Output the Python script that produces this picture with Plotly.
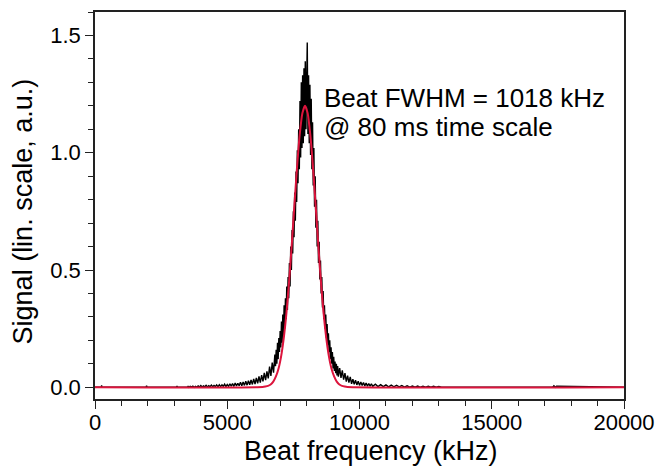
import numpy as np
import plotly.graph_objects as go

# ---------------- data ----------------
# measured beat spectrum, split into sampled sections
base_left_x = [0, 240, 250, 260, 1930, 1950, 1970, 2900, 3080, 3100, 3120, 3500, 3520, 3540]
base_left_y = [0, 0, 0.008, 0, 0, 0.006, 0, 0, 0, 0.005, 0, 0, 0.005, 0]

wing_left_x = list(range(3600, 6800, 50)) + [6775]
wing_left_y = [
    0.004, 0.001, 0.005, 0.000, 0.004, 0.001, 0.006, 0.001, 0.007, 0.001,
    0.006, 0.002, 0.008, 0.001, 0.007, 0.002, 0.009, 0.002, 0.008, 0.003,
    0.010, 0.002, 0.011, 0.003, 0.010, 0.004, 0.013, 0.003, 0.012, 0.004,
    0.015, 0.005, 0.016, 0.004, 0.018, 0.006, 0.017, 0.007, 0.021, 0.006,
    0.023, 0.008, 0.026, 0.009, 0.028, 0.011, 0.031, 0.012, 0.036, 0.014,
    0.040, 0.017, 0.046, 0.020, 0.052, 0.025, 0.061, 0.030, 0.068, 0.038,
    0.088, 0.048, 0.105, 0.062, 0.125,
]

core_x = list(range(6800, 9225, 25))
core_y = [
    0.14, 0.09, 0.16, 0.10, 0.19, 0.12, 0.21, 0.15, 0.24, 0.17,
    0.28, 0.19, 0.31, 0.22, 0.35, 0.25, 0.38, 0.29, 0.43, 0.33,
    0.47, 0.38, 0.53, 0.43, 0.60, 0.50, 0.67, 0.57, 0.75, 0.64,
    0.83, 0.71, 0.92, 0.79, 1.01, 0.87, 1.10, 0.93, 1.22, 0.98,
    1.30, 1.02, 1.33, 1.04, 1.36, 1.07, 1.39, 1.10, 1.42, 1.47,
    1.08, 1.33, 1.04, 1.29, 0.99, 1.23, 0.93, 1.13, 0.86, 1.02,
    0.77, 0.90, 0.68, 0.80, 0.60, 0.71, 0.53, 0.62, 0.46, 0.54,
    0.40, 0.47, 0.34, 0.41, 0.29, 0.35, 0.25, 0.31, 0.21, 0.27,
    0.18, 0.23, 0.15, 0.20, 0.12, 0.17, 0.10, 0.15, 0.08, 0.13,
    0.07, 0.11, 0.06, 0.10, 0.05, 0.09, 0.045,
]

wing_right_x = list(range(9250, 10550, 50)) + list(range(10600, 13100, 100))
wing_right_y = [
    0.082, 0.040, 0.072, 0.033, 0.060, 0.024, 0.050, 0.020, 0.044, 0.015,
    0.034, 0.013, 0.030, 0.010, 0.026, 0.008, 0.023, 0.008, 0.020, 0.006,
    0.018, 0.005, 0.016, 0.005, 0.015, 0.004,
    0.013, 0.003, 0.011, 0.003, 0.010, 0.002, 0.009, 0.002, 0.008, 0.002,
    0.007, 0.001, 0.006, 0.001, 0.005, 0.001, 0.005, 0.000, 0.004, 0.000,
    0.004, 0.000, 0.004, 0.000, 0.003,
]

base_right_x = [13100, 17300, 17350, 17400, 17450, 20000]
base_right_y = [0, 0, 0.006, 0, 0.005, 0]

# fitted curve (red), read at 100 kHz steps around the peak
fit_x = [0, 6340, 6440, 6540, 6640, 6740, 6840, 6940, 7040, 7140, 7240, 7340,
         7440, 7540, 7640, 7740, 7840, 7940, 8040, 8140, 8240, 8340, 8440,
         8540, 8640, 8740, 8840, 8940, 9040, 9140, 9240, 9340, 9440, 9540, 20000]
fit_y = [0, 0.001, 0.003, 0.006, 0.012, 0.024, 0.046, 0.080, 0.134, 0.213, 0.319,
         0.453, 0.610, 0.779, 0.941, 1.077, 1.168, 1.200, 1.168, 1.077, 0.941,
         0.779, 0.610, 0.453, 0.319, 0.213, 0.134, 0.080, 0.046, 0.024, 0.012,
         0.006, 0.003, 0.001, 0]

y_tickvals = [0.0, 0.5, 1.0, 1.5]
x_tickvals = [0, 5000, 10000, 15000, 20000]

annotation_lines = ["Beat FWHM = 1018 kHz", "@ 80 ms time scale"]
x_title = "Beat frequency (kHz)"
y_title = "Signal (lin. scale, a.u.)"

# ---------------- figure ----------------
sig_x = base_left_x + wing_left_x + core_x + wing_right_x + base_right_x
sig_y = base_left_y + wing_left_y + core_y + wing_right_y + base_right_y
assert len(wing_left_x) == len(wing_left_y)
assert len(core_x) == len(core_y)
assert len(wing_right_x) == len(wing_right_y)

FONT = "Liberation Sans, Arial, Helvetica, sans-serif"

fig = go.Figure()
fig.add_trace(go.Scatter(x=sig_x, y=sig_y, mode="lines",
                         line=dict(color="black", width=1.4), hoverinfo="skip"))
fig.add_trace(go.Scatter(x=fit_x, y=fit_y, mode="lines",
                         line=dict(color="#dc143c", width=2, shape="spline", smoothing=0.6),
                         hoverinfo="skip"))

fig.add_annotation(x=8590, y=1.232, xref="x", yref="y", text=annotation_lines[0],
                   showarrow=False, xanchor="left", yanchor="middle",
                   font=dict(family=FONT, size=26, color="black"))
fig.add_annotation(x=8590, y=1.111, xref="x", yref="y", text=annotation_lines[1],
                   showarrow=False, xanchor="left", yanchor="middle",
                   font=dict(family=FONT, size=26, color="black"))

# axis titles (placed as in the reference, slightly off-centre)
fig.add_annotation(x=0.5217, y=-0.1336, xref="paper", yref="paper", text=x_title,
                   showarrow=False, xanchor="center", yanchor="middle",
                   font=dict(family=FONT, size=27, color="black"))
fig.add_annotation(x=-0.1353, y=0.4858, xref="paper", yref="paper", text=y_title,
                   showarrow=False, xanchor="center", yanchor="middle", textangle=-90,
                   font=dict(family=FONT, size=27, color="black"))

axis_common = dict(showline=True, linecolor="#222", linewidth=1.5, mirror=True,
                   showgrid=False, zeroline=False, ticks="outside", ticklen=8,
                   tickwidth=1.3, tickcolor="#222", automargin=False,
                   tickfont=dict(family=FONT, size=22, color="black"))

fig.update_xaxes(range=[0, 20000], tickvals=x_tickvals, tickformat="d",
                 ticklabelstandoff=-5,
                 minor=dict(ticks="outside", ticklen=5, dtick=1000, tick0=0,
                            tickcolor="#222", tickwidth=1.3),
                 **axis_common)
fig.update_yaxes(range=[-0.05, 1.6], tickvals=y_tickvals, tickformat=".1f",
                 minor=dict(ticks="outside", ticklen=5, dtick=0.1, tick0=0,
                            tickcolor="#222", tickwidth=1.3),
                 **axis_common)

fig.update_layout(width=662, height=471, margin=dict(l=95, r=38, t=12, b=72),
                  plot_bgcolor="white", paper_bgcolor="white", showlegend=False)

fig.write_html("out.html", config={"displayModeBar": False},
               post_script="document.body.style.margin='0';document.body.style.overflow='hidden';")
